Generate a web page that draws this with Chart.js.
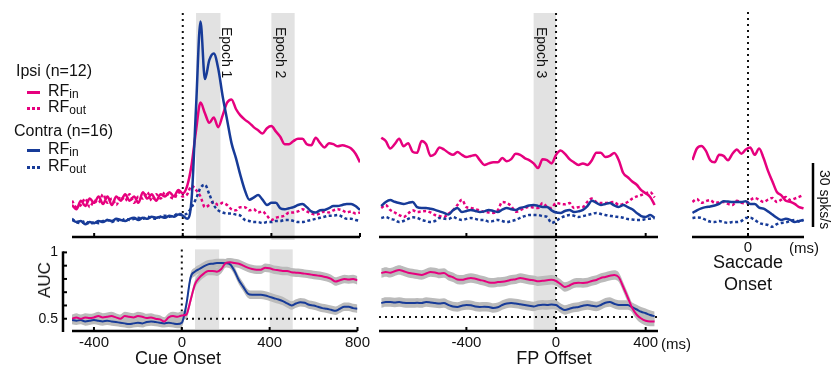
<!DOCTYPE html>
<html>
<head>
<meta charset="utf-8">
<script src="https://cdn.jsdelivr.net/npm/chart.js@4.4.0/dist/chart.umd.min.js"></script>
<style>
  body { margin: 0; background: #fff; font-family: "Liberation Sans", Arial, sans-serif; }
  #fig { position: relative; width: 839px; height: 369px; overflow: hidden; color: #111; }
  canvas { position: absolute; }
  .txt { position: absolute; white-space: nowrap; line-height: 18px; }
  .ttl { position: absolute; white-space: nowrap; line-height: 20px; font-size: 18px; transform: translateX(-50%); }
  .vert { position: absolute; writing-mode: vertical-rl; white-space: nowrap; line-height: 16px; font-size: 14px; }
  .sw { position: absolute; width: 13px; height: 0; }
  .sub { font-size: 12px; vertical-align: -2px; }
</style>
</head>
<body>
<div id="fig">
  <canvas id="topCue" width="372" height="240" style="left:0;top:0"></canvas>
  <canvas id="topFP" width="300" height="240" style="left:372px;top:0"></canvas>
  <canvas id="topSac" width="167" height="300" style="left:672px;top:0"></canvas>
  <canvas id="aucCue" width="372" height="139" style="left:0;top:230px"></canvas>
  <canvas id="aucFP" width="300" height="139" style="left:372px;top:230px"></canvas>

  <div class="txt" style="left:16px;top:62px;font-size:16px">Ipsi (n=12)</div>
  <div class="sw" style="left:27px;top:91px;border-top:3px solid #E6007E"></div>
  <div class="txt" style="left:48px;top:82px;font-size:16px">RF<span class="sub">in</span></div>
  <div class="sw" style="left:27px;top:107px;border-top:3px dotted #E6007E"></div>
  <div class="txt" style="left:48px;top:98px;font-size:16px">RF<span class="sub">out</span></div>
  <div class="txt" style="left:14px;top:122px;font-size:16px">Contra (n=16)</div>
  <div class="sw" style="left:27px;top:149px;border-top:3px solid #173B98"></div>
  <div class="txt" style="left:48px;top:140px;font-size:16px">RF<span class="sub">in</span></div>
  <div class="sw" style="left:27px;top:166px;border-top:3px dotted #173B98"></div>
  <div class="txt" style="left:48px;top:157px;font-size:16px">RF<span class="sub">out</span></div>

  <div class="vert" style="left:219px;top:27px">Epoch 1</div>
  <div class="vert" style="left:273px;top:27px">Epoch 2</div>
  <div class="vert" style="left:534px;top:27px">Epoch 3</div>
  <div class="vert" style="left:817px;top:170px">30 spks/s</div>

  <div class="vert" style="left:36px;top:262px;font-size:17px;line-height:18px;writing-mode:vertical-lr;transform:rotate(180deg)">AUC</div>
  <div class="ttl" style="left:178px;top:348px">Cue Onset</div>
  <div class="ttl" style="left:554px;top:348px">FP Offset</div>

  <div class="txt" style="left:661px;top:335px;font-size:15px">(ms)</div>
  <div class="txt" style="left:789px;top:239px;font-size:15px">(ms)</div>
</div>

<script>
// time grids (ms) for each alignment
function steps(a, b, d) { var out = []; for (var t = a; t <= b; t += d) out.push(t); return out; }
var cueTimes = steps(-500, 800, 20);
var fpTimes = steps(-780, 440, 20);
var sacTimes = steps(-250, 250, 20);

// firing rates (spks/s), aligned on cue onset
var ipsiInCue = [15,13,17,14.5,18,16,19,15.5,19,15, 19,17,20,17,19,16,21,18,20,17,
  20,19,21,19,22,20.5,24,34,50,63, 58,53.5,56,51.5,57,63,64.5,60,57,55,
  53.5,51.5,50,48.5,51,52,49.5,47,43.5,43.5, 45,46,46,43.5,43,46.5,44,42,44,43.5,
  42.5,43,42.5,41.5,39,35];
var ipsiOutCue = [17,14,15,18,14,17,16,20,16,18, 15,19,17,20,16,19,18,21,17,20,
  18,21,19,18,21,19,20,24,22,19, 14,15,16.5,15,16,15,13,12.5,14,14,
  12.5,13,11.5,12,10,8,9,9.5,10,11.5, 11.5,12,13,12,11,10.5,11,12,11.5,12.5,
  13,12.5,11.5,12,11,11.5];
var contraInCue = [8,7,7.5,6,7,6.5,7.5,7,8,7.5, 8.5,8,7.5,8.5,9,8,9,8.5,9.5,9,
  9.5,9,10,9.5,10.5,10,8.5,18,61,101, 74,83,86,79,66,55,44,37,29,22,
  17.5,18.5,19.7,17.5,15,16,16,13.5,13,13.5, 14,15,15.5,14,12,11.5,12.5,12.7,13.5,14.5,
  14.5,15,15.5,15.5,14.5,12.7];
var contraOutCue = [8.5,7,6.5,7.5,6,7,6.5,7.5,8,7, 8,7.5,8.5,8,8.5,9,8.5,9.5,9,8.5,
  9.5,10,9.5,10,11,10.5,11,14,18,23, 24.5,20,15,12.5,11.5,11,11,10.5,10,8,
  7.5,7,7,6.5,7,7,7.5,7.5,8,8, 7.5,7,7,7.5,8,8.5,9,9.5,10,10,
  10.3,9.5,8.5,8.5,8,7.5];

// firing rates aligned on FP offset
var ipsiInFP = [46.5,45,41.5,43.5,46,42.5,44,40,39.5,45, 43.5,38,39,42,41,39.5,38.5,39.8,38.5,37.5,
  38,38.4,36,33.8,34.5,35,35,37,35.5,36.5, 39,38.5,37,36,34.5,32.3,36.5,36,34.5,38.5,
  40.5,39,36.5,35,33.8,34.5,33.8,36,39.5,39.5, 37.5,38,39.4,36,30,28,26,24.5,22,20.5,
  18.8,15];
var ipsiOutFP = [13.6,15,12.7,11.5,10.3,9.4,11,12.5,11.7,12, 12.2,11.5,10.3,9.8,9.4,11,12.5,15,17.5,14,
  13.6,13,12.5,11.7,11.5,11.3,12.5,16.4,15.9,14.5, 11.8,12.5,13.6,14.1,13.8,13.6,15.9,14.1,13.6,16,
  15.5,15.3,15.9,13.6,14,14.1,16.5,18,16.4,15.9, 15.9,16.2,16.4,15,15.5,16.4,18,19,19.7,20.5,
  21.1,18.5];
var contraInFP = [14.5,16.4,17.3,16.5,15.9,15.5,16,16.4,14,13.6, 13.6,13.2,12.7,12,11.3,10.5,12.5,13.6,11.7,12.2,
  12.7,12.2,11.7,12,12.7,12.2,11.7,12.8,13.6,13, 12.7,13.6,14.1,14.8,15,14.6,14.1,14.1,12.5,11.5,
  11.3,12.2,12.7,11.7,12,12.7,14.5,17,16,15, 15.5,15.9,14.8,14.1,15,14,13,11.3,9.8,9.4,
  10.3,9];
var contraOutFP = [8.9,9.4,8.5,8,7,7.5,8.5,9.2,9,8, 7.5,7,7.5,8.9,8.6,8.4,9.4,8.5,8,8.5,
  8.9,8.5,8,8,7.2,7.5,8,7.5,7,7.5, 8,9,9.8,10.3,10.3,10.3,9.8,9.4,6.6,7.5,
  8.9,9.8,10.3,10,9.4,9.8,10.3,10.8,11.3,10.8, 10.3,10,9.6,9.4,9,8.4,8.2,8,8,8.4,
  8.6,8.9];

// firing rates aligned on saccade onset
var ipsiInSac = [36.1,41.5,42.7,40.5,36,35,38.5,38,36,39,41,39,41,42,38.5,41.5,37,31,26,21.1,19.5,17,16.5,15.5,14,13.5];
var ipsiOutSac = [16.4,17.8,16,16.8,17.3,16,16.2,16.4,15.5,15,17,16,15.8,17.3,18.3,17.5,16.4,17.5,18.3,16.4,17.5,18.8,17.3,18,18.8,19.7];
var contraInSac = [11.3,12.5,13.4,14,14.3,14.8,15.5,16.8,16.6,16.4,16.4,16.4,16.8,15.5,15.5,13.8,13.3,12,10.5,9,8,8.5,8,7,7.5,8];
var contraOutSac = [8.9,9.2,9,8,7.2,7,7.5,7,6.6,7,7,7.5,8.9,9,8,6.6,6,5.6,4.8,6,6.6,6.8,7.5,8,7.2,8];

// AUC (RFin vs RFout)
var aucIpsiCue = [0.5,0.51,0.5,0.51,0.505,0.51,0.52,0.51,0.515,0.52, 0.51,0.5,0.52,0.515,0.51,0.52,0.515,0.505,0.51,0.5,
  0.495,0.48,0.51,0.52,0.515,0.525,0.53,0.64,0.76,0.81, 0.84,0.86,0.86,0.855,0.875,0.92,0.925,0.92,0.915,0.9,
  0.885,0.875,0.87,0.87,0.885,0.88,0.87,0.865,0.86,0.86, 0.85,0.847,0.845,0.84,0.835,0.83,0.825,0.82,0.813,0.8,
  0.78,0.79,0.8,0.795,0.8,0.79];
var aucContraCue = [0.49,0.485,0.49,0.48,0.485,0.49,0.485,0.48,0.485,0.48, 0.475,0.47,0.465,0.46,0.465,0.47,0.465,0.475,0.48,0.475,
  0.47,0.465,0.47,0.465,0.46,0.47,0.6,0.81,0.855,0.875, 0.895,0.91,0.915,0.92,0.92,0.918,0.91,0.86,0.79,0.74,
  0.69,0.68,0.68,0.68,0.675,0.665,0.655,0.645,0.633,0.615, 0.6,0.615,0.625,0.62,0.605,0.6,0.59,0.58,0.575,0.567,
  0.56,0.575,0.59,0.59,0.58,0.575];
var aucIpsiFP = [0.793,0.8,0.795,0.805,0.813,0.805,0.795,0.79,0.785,0.78, 0.79,0.8,0.797,0.79,0.793,0.775,0.765,0.75,0.748,0.755,
  0.76,0.755,0.747,0.74,0.73,0.728,0.733,0.735,0.74,0.748, 0.752,0.76,0.755,0.748,0.745,0.738,0.742,0.745,0.748,0.74,
  0.72,0.7,0.71,0.725,0.728,0.727,0.73,0.74,0.747,0.76, 0.767,0.775,0.78,0.765,0.7,0.63,0.56,0.515,0.49,0.475,
  0.47,0.47];
var aucContraFP = [0.593,0.6,0.6,0.597,0.6,0.595,0.593,0.593,0.595,0.593, 0.6,0.597,0.593,0.59,0.593,0.58,0.57,0.567,0.575,0.58,
  0.578,0.57,0.567,0.568,0.567,0.56,0.565,0.58,0.59,0.593, 0.59,0.585,0.58,0.575,0.57,0.578,0.582,0.58,0.583,0.58,
  0.56,0.547,0.555,0.563,0.567,0.575,0.58,0.575,0.57,0.58, 0.595,0.6,0.588,0.58,0.58,0.58,0.565,0.55,0.535,0.525,
  0.513,0.505];
var aucSem = 0.032;

// axis ticks and epochs
var cueTicks = [-400, 0, 400, 800];
var fpTicks = [-400, 0, 400];
var sacTicks = [0];
var aucLabelTicks = [0.5, 1];
var aucMinorTicks = [0.5, 0.6, 0.7, 0.8, 0.9, 1];
var cueEpochs = [[60, 170], [400, 505]];
var fpEpochs = [[-100, 0]];
var scaleBarBase = 4.7, scaleBarSize = 30;

var PINK = "#E6007E", BLUE = "#173B98", SHADE = "#E2E2E2", BAND = "#BBBBBB";
var rateMax = 106.4;

Chart.defaults.font.family = '"Liberation Sans", Arial, sans-serif';
Chart.defaults.color = "#111";

function pts(times, vals) {
  return times.map(function (t, i) { return { x: t, y: vals[i] }; });
}

function rateSets(times, ipsiIn, ipsiOut, contraIn, contraOut) {
  var base = { pointRadius: 0, borderWidth: 2.5, cubicInterpolationMode: "monotone", fill: false };
  return [
    Object.assign({ data: pts(times, contraIn), borderColor: BLUE }, base),
    Object.assign({ data: pts(times, ipsiIn), borderColor: PINK }, base),
    Object.assign({ data: pts(times, contraOut), borderColor: BLUE, borderDash: [3, 2.5] }, base),
    Object.assign({ data: pts(times, ipsiOut), borderColor: PINK, borderDash: [3, 2.5] }, base)
  ];
}

function aucSets(times, ipsi, contra) {
  var line = { pointRadius: 0, borderWidth: 2, cubicInterpolationMode: "monotone", fill: false };
  var band = { pointRadius: 0, borderWidth: 0, cubicInterpolationMode: "monotone", backgroundColor: BAND };
  return [
    Object.assign({ data: pts(times, ipsi), borderColor: PINK }, line),
    Object.assign({ data: pts(times, contra), borderColor: BLUE }, line),
    Object.assign({ data: pts(times, ipsi.map(function (v) { return v + aucSem; })), fill: "+1" }, band),
    Object.assign({ data: pts(times, ipsi.map(function (v) { return v - aucSem; })), fill: false }, band),
    Object.assign({ data: pts(times, contra.map(function (v) { return v + aucSem; })), fill: "+1" }, band),
    Object.assign({ data: pts(times, contra.map(function (v) { return v - aucSem; })), fill: false }, band)
  ];
}

// shading, dotted reference lines, offset axes and scale bar
function decor(cfg) {
  function seg(ctx, x0, y0, x1, y1) { ctx.beginPath(); ctx.moveTo(x0, y0); ctx.lineTo(x1, y1); ctx.stroke(); }
  return {
    id: "decor",
    beforeDatasetsDraw: function (chart) {
      var ctx = chart.ctx, a = chart.chartArea, x = chart.scales.x, y = chart.scales.y;
      var top = cfg.top === "area" ? a.top - 3 : cfg.shadeTop;
      var bottom = cfg.top === "area" ? a.bottom - 3 : chart.height;
      ctx.save();
      ctx.fillStyle = SHADE;
      (cfg.epochs || []).forEach(function (e) {
        var x0 = x.getPixelForValue(e[0]), x1 = x.getPixelForValue(e[1]);
        ctx.fillRect(x0, top, x1 - x0, bottom - top);
      });
      ctx.strokeStyle = "#111";
      ctx.lineWidth = 2;
      ctx.setLineDash([2, 4]);
      var zx = x.getPixelForValue(0);
      seg(ctx, zx, top, zx, cfg.zeroBottom != null ? cfg.zeroBottom : (cfg.top === "area" ? a.bottom : chart.height));
      if (cfg.chance != null) {
        var cy = y.getPixelForValue(cfg.chance);
        seg(ctx, a.left, cy, a.right, cy);
      }
      ctx.restore();
    },
    afterDatasetsDraw: function (chart) {
      var ctx = chart.ctx, a = chart.chartArea, x = chart.scales.x, y = chart.scales.y;
      var by = a.bottom + (cfg.axisShift || 0);
      ctx.save();
      ctx.strokeStyle = "#000";
      ctx.lineWidth = 2.5;
      ctx.lineCap = "butt";
      seg(ctx, a.left, by, a.right, by);
      ctx.lineWidth = 2;
      (cfg.ticks || []).forEach(function (t) {
        var px = x.getPixelForValue(t);
        seg(ctx, px, by, px, by - 4);
      });
      if (cfg.yAxis) {
        var lx = a.left - 9;
        ctx.lineWidth = 2.5;
        seg(ctx, lx, y.getPixelForValue(1) - 1, lx, by + 1);
        ctx.lineWidth = 2;
        aucMinorTicks.forEach(function (v) {
          var py = y.getPixelForValue(v);
          seg(ctx, lx, py, lx + 4, py);
        });
      }
      if (cfg.scaleBar) {
        var sx = a.right + 9;
        ctx.lineWidth = 2.5;
        seg(ctx, sx, y.getPixelForValue(scaleBarBase), sx, y.getPixelForValue(scaleBarBase + scaleBarSize));
      }
      ctx.restore();
    }
  };
}

var common = {
  responsive: false,
  animation: false,
  events: [],
  plugins: { legend: { display: false }, tooltip: { enabled: false } }
};

function setTicks(list) {
  return function (scale) { scale.ticks = list.map(function (v) { return { value: v }; }); };
}
function plainLabel(v) { return String(v); }

// top row: firing rates
new Chart(document.getElementById("topCue"), {
  type: "line",
  data: { datasets: rateSets(cueTimes, ipsiInCue, ipsiOutCue, contraInCue, contraOutCue) },
  options: Object.assign({}, common, {
    layout: { padding: { left: 72, right: 12, top: 10, bottom: 3 } },
    scales: {
      x: { type: "linear", min: -500, max: 800, display: false },
      y: { min: 0, max: rateMax, display: false }
    }
  }),
  plugins: [decor({ epochs: cueEpochs, shadeTop: 13, ticks: cueTicks })]
});

new Chart(document.getElementById("topFP"), {
  type: "line",
  data: { datasets: rateSets(fpTimes, ipsiInFP, ipsiOutFP, contraInFP, contraOutFP) },
  options: Object.assign({}, common, {
    layout: { padding: { left: 7, right: 14, top: 10, bottom: 3 } },
    scales: {
      x: { type: "linear", min: -790, max: 455, display: false },
      y: { min: 0, max: rateMax, display: false }
    }
  }),
  plugins: [decor({ epochs: fpEpochs, shadeTop: 13, ticks: fpTicks })]
});

new Chart(document.getElementById("topSac"), {
  type: "line",
  data: { datasets: rateSets(sacTimes, ipsiInSac, ipsiOutSac, contraInSac, contraOutSac) },
  options: Object.assign({}, common, {
    layout: { padding: { left: 20, right: 35, top: 10, bottom: 0 } },
    scales: {
      x: {
        type: "linear", min: -252, max: 252,
        afterBuildTicks: setTicks(sacTicks),
        afterFit: function (s) { s.height = 63; },
        grid: { display: false, drawTicks: false },
        border: { display: false },
        ticks: { padding: 2, font: { size: 15 }, callback: plainLabel },
        title: { display: true, text: ["Saccade", "Onset"], font: { size: 18 }, padding: { top: 0, bottom: 4.6 } }
      },
      y: { min: 0, max: rateMax, display: false }
    }
  }),
  plugins: [decor({ shadeTop: 12, zeroBottom: 237, ticks: sacTicks, scaleBar: true })]
});

// bottom row: AUC
new Chart(document.getElementById("aucCue"), {
  type: "line",
  data: { datasets: aucSets(cueTimes, aucIpsiCue, aucContraCue) },
  options: Object.assign({}, common, {
    layout: { padding: { left: 0, right: 12, top: 12, bottom: 0 } },
    scales: {
      x: {
        type: "linear", min: -500, max: 800,
        afterBuildTicks: setTicks(cueTicks),
        afterFit: function (s) { s.height = 37; },
        grid: { display: false, drawTicks: false },
        border: { display: false },
        ticks: { padding: 2, font: { size: 15 }, callback: plainLabel }
      },
      y: {
        min: 0.4, max: 1,
        afterBuildTicks: setTicks(aucLabelTicks),
        afterFit: function (s) { s.width = 72; },
        grid: { display: false, drawTicks: false },
        border: { display: false },
        ticks: { padding: 14, font: { size: 14 }, callback: plainLabel }
      }
    }
  }),
  plugins: [decor({ epochs: cueEpochs, top: "area", ticks: cueTicks, chance: 0.5, yAxis: true, axisShift: -1 })]
});

new Chart(document.getElementById("aucFP"), {
  type: "line",
  data: { datasets: aucSets(fpTimes, aucIpsiFP, aucContraFP) },
  options: Object.assign({}, common, {
    layout: { padding: { left: 7, right: 14, top: 12, bottom: 0 } },
    scales: {
      x: {
        type: "linear", min: -790, max: 455,
        afterBuildTicks: setTicks(fpTicks),
        afterFit: function (s) { s.height = 37; },
        grid: { display: false, drawTicks: false },
        border: { display: false },
        ticks: { padding: 2, font: { size: 15 }, callback: plainLabel }
      },
      y: { min: 0.4, max: 1, display: false }
    }
  }),
  plugins: [decor({ epochs: fpEpochs, top: "area", ticks: fpTicks, chance: 0.5, axisShift: -1 })]
});
</script>
</body>
</html>
